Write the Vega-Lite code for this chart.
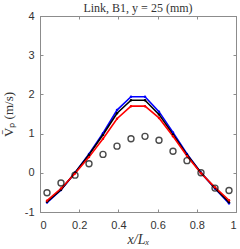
{
  "$schema": "https://vega.github.io/schema/vega-lite/v6.json",
  "width": 196,
  "height": 196,
  "autosize": {"type": "none"},
  "padding": {"left": 40, "top": 16, "right": 4, "bottom": 37},
  "background": "white",
  "config": {
    "view": {"stroke": "#8c8c8c", "strokeWidth": 1},
    "axis": {
      "grid": false,
      "domainColor": "#8c8c8c",
      "tickColor": "#8c8c8c",
      "tickSize": -3,
      "labelFont": "Liberation Sans",
      "labelFontSize": 11,
      "labelColor": "#333333",
      "titleFont": "Liberation Serif",
      "titleFontSize": 12,
      "titleFontWeight": "normal",
      "titleColor": "#333333"
    }
  },
  "title": {
    "text": "Link, B1, y = 25 (mm)",
    "font": "Liberation Serif",
    "fontSize": 12,
    "fontWeight": "normal",
    "color": "#333333",
    "anchor": "middle",
    "offset": 0,
    "dy": 5
  },
  "datasets": {
    "sim": [
      {"x": 0.0357, "v": -0.76, "s": "blue"},
      {"x": 0.1071, "v": -0.44, "s": "blue"},
      {"x": 0.1786, "v": 0.0, "s": "blue"},
      {"x": 0.25, "v": 0.48, "s": "blue"},
      {"x": 0.3214, "v": 1.01, "s": "blue"},
      {"x": 0.3929, "v": 1.6, "s": "blue"},
      {"x": 0.4643, "v": 1.94, "s": "blue"},
      {"x": 0.5357, "v": 1.94, "s": "blue"},
      {"x": 0.6071, "v": 1.56, "s": "blue"},
      {"x": 0.6786, "v": 1.03, "s": "blue"},
      {"x": 0.75, "v": 0.48, "s": "blue"},
      {"x": 0.8214, "v": 0.0, "s": "blue"},
      {"x": 0.8929, "v": -0.4, "s": "blue"},
      {"x": 0.9643, "v": -0.78, "s": "blue"},
      {"x": 0.0357, "v": -0.74, "s": "black"},
      {"x": 0.1071, "v": -0.43, "s": "black"},
      {"x": 0.1786, "v": 0.0, "s": "black"},
      {"x": 0.25, "v": 0.46, "s": "black"},
      {"x": 0.3214, "v": 0.97, "s": "black"},
      {"x": 0.3929, "v": 1.52, "s": "black"},
      {"x": 0.4643, "v": 1.85, "s": "black"},
      {"x": 0.5357, "v": 1.85, "s": "black"},
      {"x": 0.6071, "v": 1.49, "s": "black"},
      {"x": 0.6786, "v": 0.98, "s": "black"},
      {"x": 0.75, "v": 0.46, "s": "black"},
      {"x": 0.8214, "v": 0.0, "s": "black"},
      {"x": 0.8929, "v": -0.39, "s": "black"},
      {"x": 0.9643, "v": -0.75, "s": "black"},
      {"x": 0.0357, "v": -0.71, "s": "red"},
      {"x": 0.1071, "v": -0.4, "s": "red"},
      {"x": 0.1786, "v": -0.02, "s": "red"},
      {"x": 0.25, "v": 0.4, "s": "red"},
      {"x": 0.3214, "v": 0.87, "s": "red"},
      {"x": 0.3929, "v": 1.38, "s": "red"},
      {"x": 0.4643, "v": 1.7, "s": "red"},
      {"x": 0.5357, "v": 1.7, "s": "red"},
      {"x": 0.6071, "v": 1.4, "s": "red"},
      {"x": 0.6786, "v": 0.93, "s": "red"},
      {"x": 0.75, "v": 0.43, "s": "red"},
      {"x": 0.8214, "v": -0.01, "s": "red"},
      {"x": 0.8929, "v": -0.37, "s": "red"},
      {"x": 0.9643, "v": -0.7, "s": "red"}
    ],
    "exp": [
      {"x": 0.0357, "v": -0.51},
      {"x": 0.1071, "v": -0.26},
      {"x": 0.1786, "v": -0.06},
      {"x": 0.25, "v": 0.23},
      {"x": 0.3214, "v": 0.47},
      {"x": 0.3929, "v": 0.68},
      {"x": 0.4643, "v": 0.87},
      {"x": 0.5357, "v": 0.93},
      {"x": 0.6071, "v": 0.83},
      {"x": 0.6786, "v": 0.55},
      {"x": 0.75, "v": 0.31},
      {"x": 0.8214, "v": 0.0},
      {"x": 0.8929, "v": -0.39},
      {"x": 0.9643, "v": -0.45}
    ]
  },
  "resolve": {"axis": {"x": "independent", "y": "independent"}},
  "layer": [
    {
      "data": {"name": "sim"},
      "mark": {"type": "line", "strokeWidth": 1.6, "point": {"size": 6, "filled": true}},
      "encoding": {
        "x": {
          "field": "x", "type": "quantitative",
          "scale": {"domain": [0, 1], "nice": false, "zero": false},
          "axis": {"orient": "bottom", "values": [0, 0.2, 0.4, 0.6, 0.8, 1], "labelExpr": "toString(datum.value)", "title": "x/Lₓ", "titleFontStyle": "italic", "titleFontSize": 14, "labelPadding": 10, "titlePadding": 2}
        },
        "y": {
          "field": "v", "type": "quantitative",
          "scale": {"domain": [-1, 4], "nice": false, "zero": false},
          "axis": {"orient": "left", "values": [-1, 0, 1, 2, 3, 4], "labelExpr": "toString(datum.value)", "title": "V̄ₚ (m/s)", "titleFontSize": 13, "titleAnchor": "middle", "labelPadding": 9, "titlePadding": 9}
        },
        "color": {
          "field": "s", "type": "nominal",
          "scale": {"domain": ["blue", "black", "red"], "range": ["#0000ff", "#000000", "#ff0000"]},
          "legend": null
        },
        "order": {"field": "x"}
      }
    },
    {
      "data": {"name": "exp"},
      "mark": {"type": "point", "shape": "circle", "size": 36, "stroke": "#000000", "strokeWidth": 1.4, "filled": false},
      "encoding": {
        "x": {
          "field": "x", "type": "quantitative",
          "scale": {"domain": [0, 1], "nice": false, "zero": false},
          "axis": {"orient": "top", "values": [0, 0.2, 0.4, 0.6, 0.8, 1], "labels": false, "title": null}
        },
        "y": {
          "field": "v", "type": "quantitative",
          "scale": {"domain": [-1, 4], "nice": false, "zero": false},
          "axis": {"orient": "right", "values": [-1, 0, 1, 2, 3, 4], "labels": false, "title": null}
        }
      }
    }
  ]
}
